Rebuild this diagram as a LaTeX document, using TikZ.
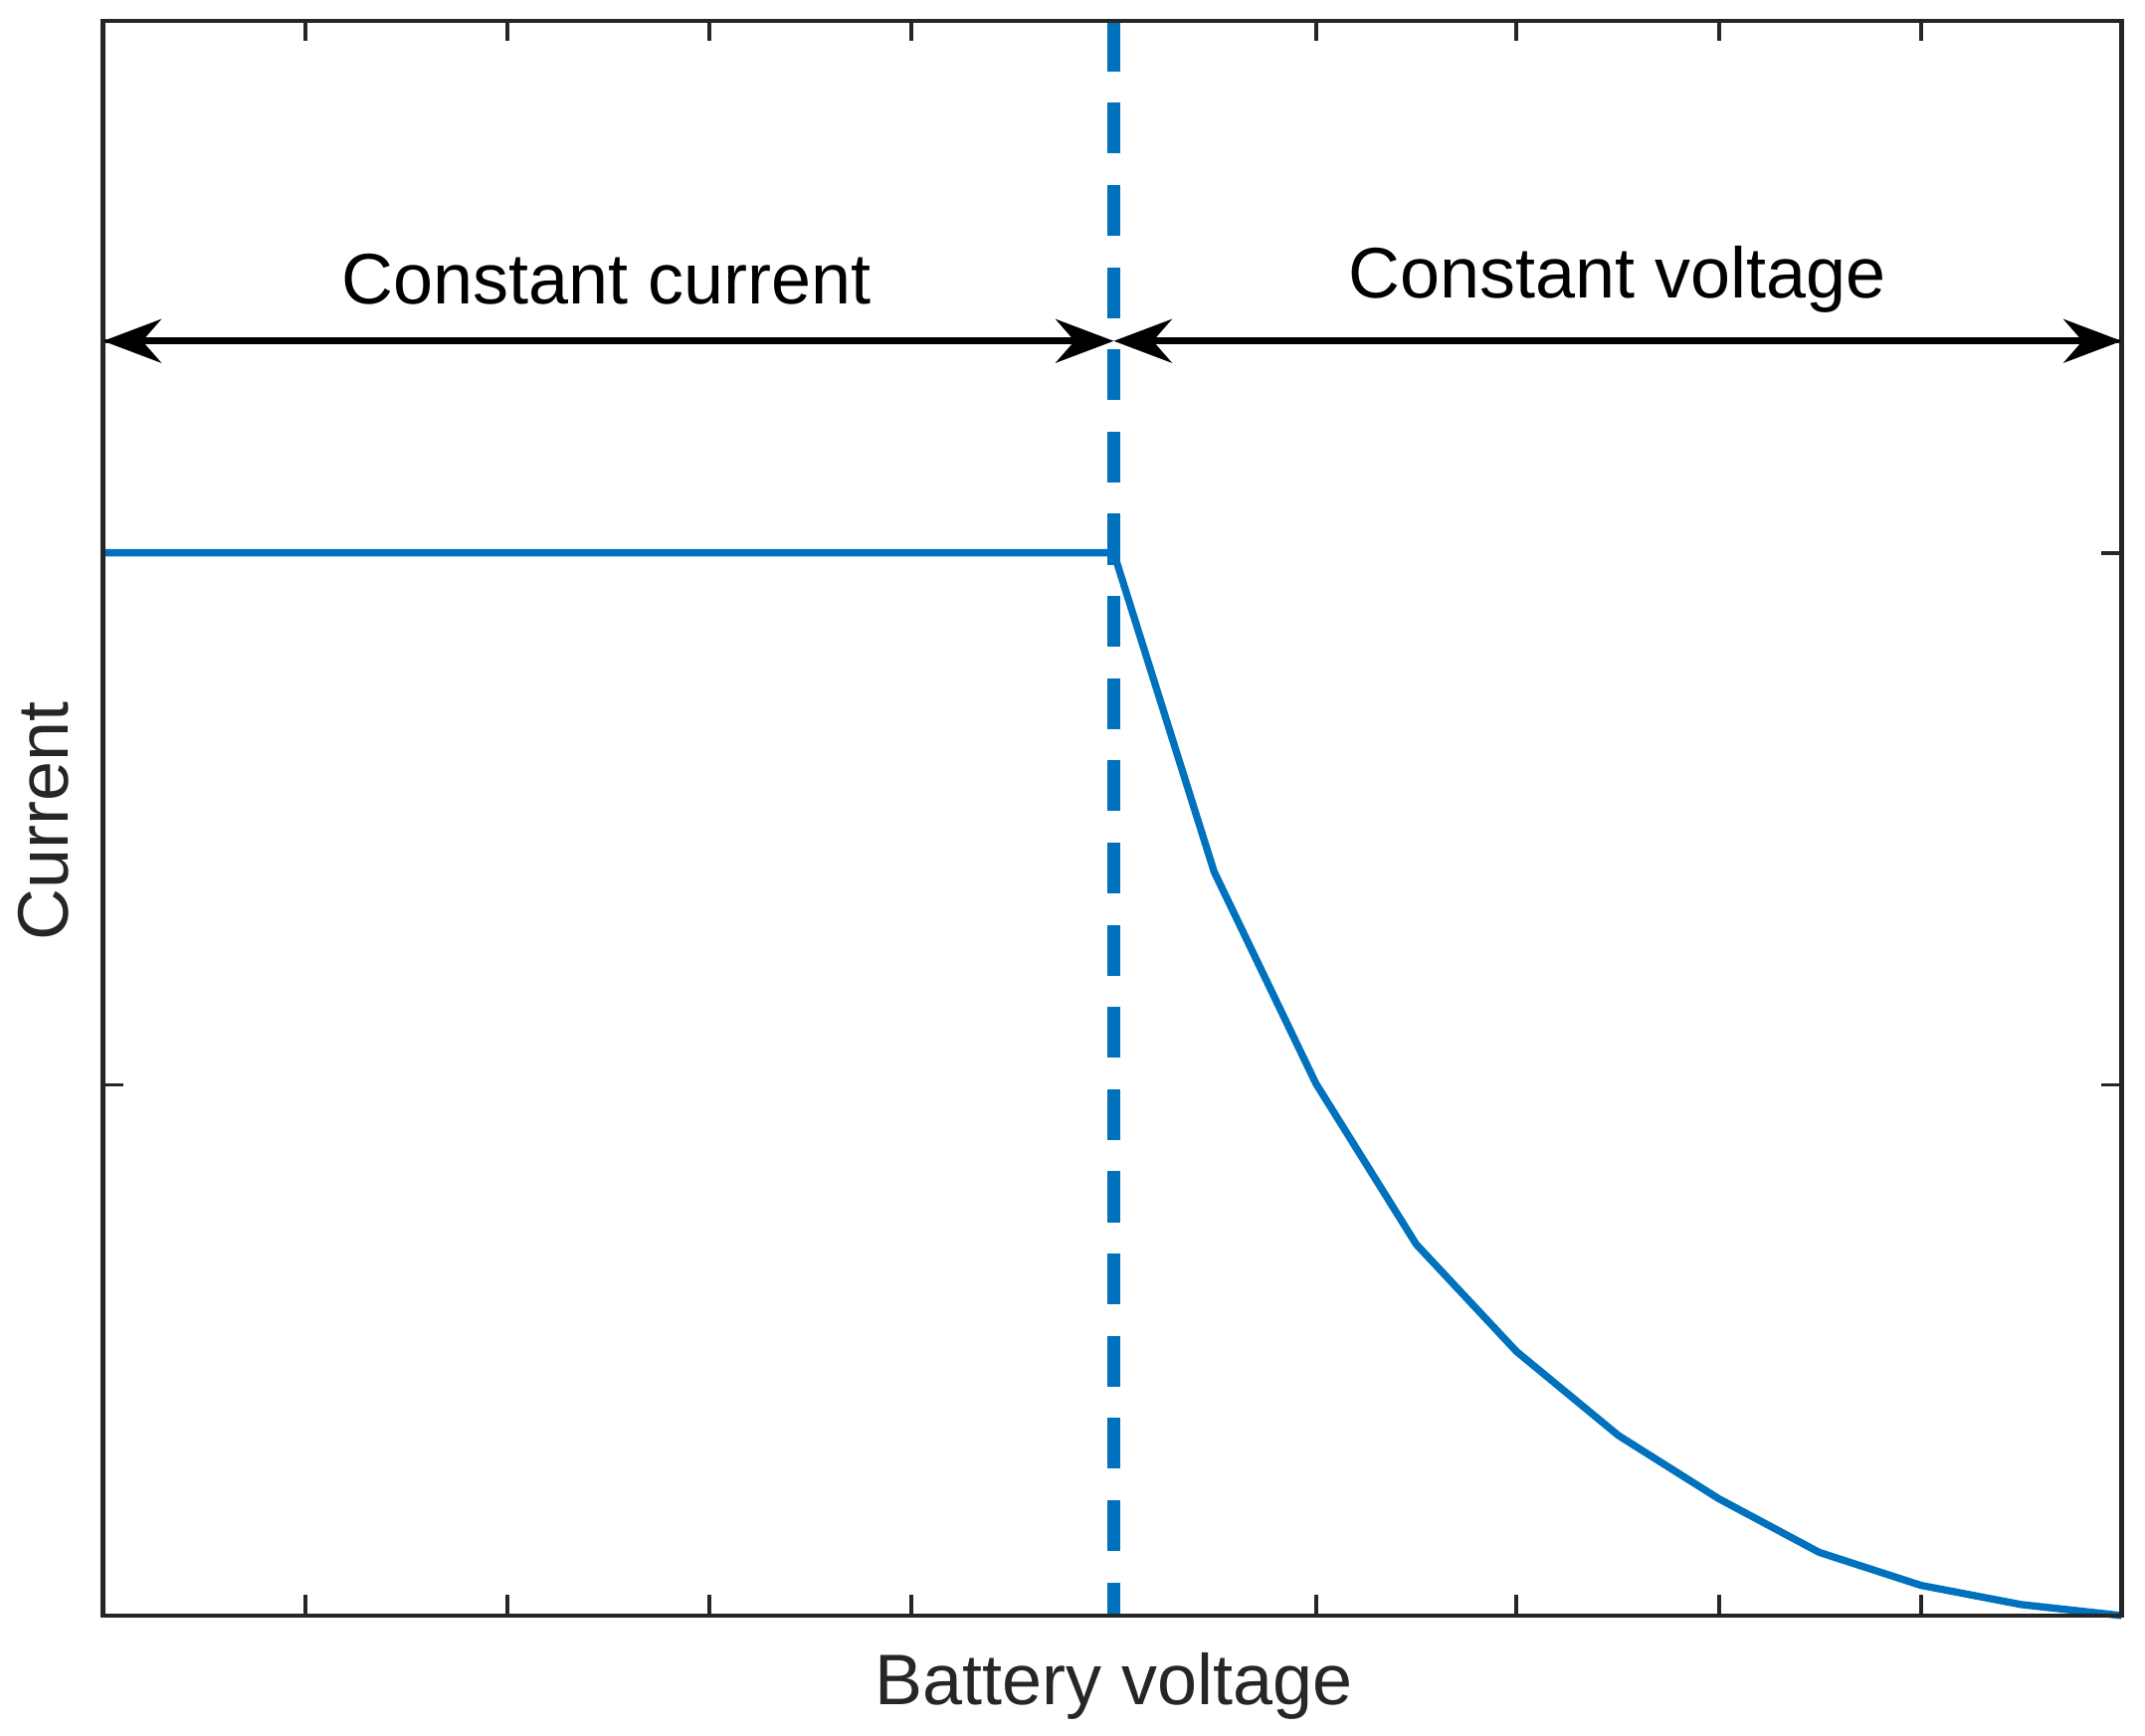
\documentclass[tikz,border=0pt]{standalone}
\usepackage{fontspec}
\setmainfont{Liberation Sans}
\usetikzlibrary{arrows.meta}
\definecolor{mblue}{HTML}{0072BD}
\definecolor{axc}{HTML}{262626}
\begin{document}
\begin{tikzpicture}[x=0.01cm,y=-0.01cm,
  lab/.style={font=\fontsize{14.8}{18}\selectfont,text=black},
  axlab/.style={font=\fontsize{14.8}{18}\selectfont,text=axc},
  dbl/.style={black,line width=1.4pt,{Stealth[length=12pt,width=9pt]}-{Stealth[length=12pt,width=9pt]}}]
\useasboundingbox (0,0) rectangle (1560,1262);
% ticks
\foreach \x in {222,369,516,663,810,957,1103,1250,1397}{
  \draw[axc,line width=0.8pt] (\x,1175) -- (\x,1160);
  \draw[axc,line width=0.8pt] (\x,15) -- (\x,30);}
\foreach \y in {248,402,789}{
  \draw[axc,line width=0.8pt] (75,\y) -- (90,\y);
  \draw[axc,line width=0.8pt] (1543,\y) -- (1528,\y);}
% curve
\draw[mblue,line width=1.5pt] (75,402) -- (810,402) -- (883,634) -- (957,788) -- (1030,905) -- (1103,983) -- (1177,1044) -- (1250,1090) -- (1323,1129) -- (1397,1153) -- (1470,1167) -- (1543,1175);
% dashed
\coordinate (dt) at (810,15); \coordinate (db) at (810,1175);
\draw[mblue,line width=2.6pt,dash pattern=on 10.5pt off 6.5pt] (dt) -- (db);
% box
\draw[axc,line width=0.9pt] (75,15) rectangle (1543,1175);
% arrows
\coordinate (al) at (75,248); \coordinate (am) at (810,248); \coordinate (ar) at (1543,248);
\draw[dbl] (al) -- (am);
\draw[dbl] (am) -- (ar);
\node[lab] (cc) at (441,203) {Constant current};
\node[lab] (cv) at (1176,203) {Constant voltage};
\node[axlab] (xl) at (810,1226) {Battery voltage};
\node[axlab,rotate=90] (yl) at (32,597) {Current};
\end{tikzpicture}
\end{document}
